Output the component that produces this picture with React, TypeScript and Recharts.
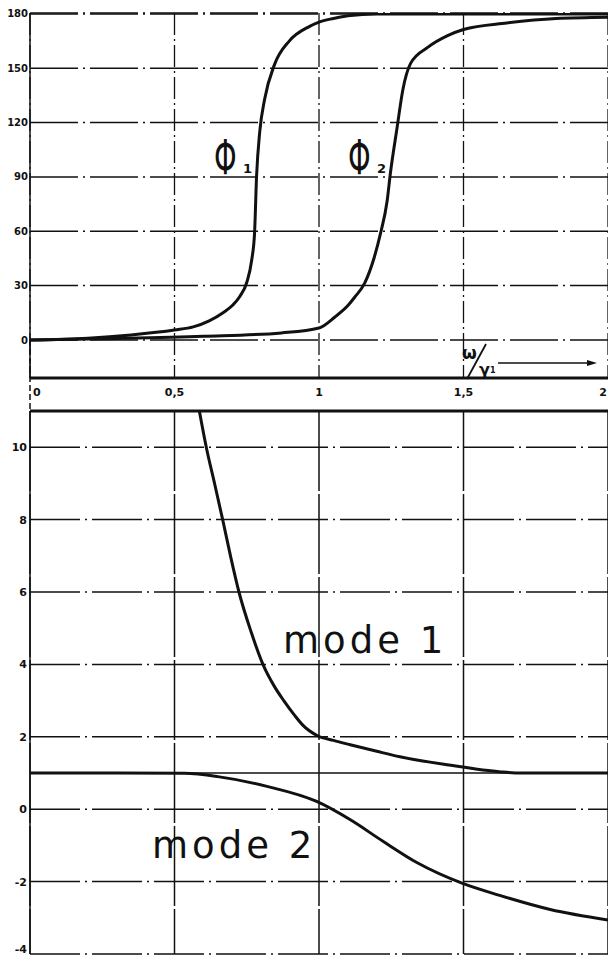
import React from "react";
import { LineChart, Line, XAxis, YAxis, CartesianGrid, ReferenceLine } from "recharts";

// frequency axis (omega / gamma1)
const xTicks = [0, 0.5, 1, 1.5, 2];
const xTickLabels = ["0", "0,5", "1", "1,5", "2"];

// top panel: phase in degrees
const phaseTicks = [0, 30, 60, 90, 120, 150, 180];

const phi1X = [0, 0.2, 0.35, 0.5, 0.565, 0.62, 0.668, 0.7, 0.726, 0.75, 0.767, 0.777, 0.784, 0.795, 0.812, 0.846, 0.897, 0.966, 1.0, 1.05, 1.1, 1.2, 1.5, 2];
const phi1Y = [0, 1, 2.8, 5.5, 7.2, 10.5, 15, 19, 24, 31.7, 44, 59, 90.5, 115, 133, 152, 165, 173, 175.5, 177.5, 179, 180, 180, 180];

const phi2X = [0, 0.3, 0.6, 0.87, 1.0, 1.055, 1.1, 1.124, 1.158, 1.19, 1.213, 1.236, 1.247, 1.27, 1.29, 1.317, 1.376, 1.445, 1.5, 1.65, 1.82, 2];
const phi2Y = [0, 0.8, 2, 3.9, 6.6, 12.7, 19, 23.7, 31.4, 45, 59, 77, 92, 117, 138, 152.7, 161.5, 168, 171.4, 175, 177.5, 178.2];

// bottom panel: amplitude ratio of the two modes
const modeTicks = [-4, -2, 0, 2, 4, 6, 8, 10];

const mode1X = [0.586, 0.61, 0.64, 0.668, 0.695, 0.723, 0.765, 0.806, 0.845, 0.878, 0.915, 0.943, 0.995, 1.05, 1.108, 1.2, 1.28, 1.45, 1.63, 1.7, 2];
const mode1Y = [11, 10, 8.95, 7.95, 6.95, 6, 4.9, 4, 3.4, 3.0, 2.6, 2.33, 2.03, 1.9, 1.78, 1.6, 1.45, 1.22, 1.03, 1.0, 1.0];

const mode2X = [0, 0.3, 0.534, 0.65, 0.82, 0.99, 1.11, 1.22, 1.34, 1.497, 1.625, 1.8, 2];
const mode2Y = [1, 1, 0.99, 0.9, 0.63, 0.22, -0.3, -0.88, -1.48, -2.05, -2.38, -2.77, -3.06];

const toPoints = (xs: number[], ys: number[]) => xs.map((x, i) => ({ x, y: ys[i] }));

const INK = "#111";
const FONT = "DejaVu Sans";
const tickStyle = { fill: INK, fontSize: 10, fontWeight: 700, fontFamily: FONT };

const XTick = (props: any) => {
  const { x, y, index } = props;
  const last = xTicks.length - 1;
  const anchor = index === 0 ? "start" : index === last ? "end" : "middle";
  const dx = index === 0 ? 3 : index === last ? -1 : 0;
  return (
    <text x={x + dx} y={y} dy="0.71em" textAnchor={anchor} fill={INK} fontSize={11} fontWeight={700} fontFamily={FONT}>
      {xTickLabels[index]}
    </text>
  );
};

// bottom ticks: the lowest one sits on the page edge, nudge it up to stay visible
const ModeTick = (props: any) => {
  const { x, y, payload } = props;
  const lift = payload.value === modeTicks[0] ? -5 : 0;
  return (
    <text x={x} y={y + lift} dy="0.355em" textAnchor="end" fill={INK} fontSize={11} fontWeight={700} fontFamily={FONT}>
      {payload.value}
    </text>
  );
};

export default function App() {
  return (
    <div style={{ position: "relative", width: 608, height: 955, overflow: "hidden", background: "#fff" }}>
      <style>{"body{margin:0}"}</style>

      <div style={{ position: "absolute", left: 0, top: 0 }}>
        <LineChart width={608} height={412} margin={{ top: 13, right: 0, bottom: 0, left: 0 }}>
          <CartesianGrid vertical={false} stroke={INK} strokeWidth={1.5} strokeDasharray="48 5 2 5" />
          <CartesianGrid horizontal={false} stroke={INK} strokeWidth={1.3} strokeDasharray="22 4 2 4" />
          <XAxis
            type="number"
            dataKey="x"
            domain={[0, 2]}
            ticks={xTicks}
            allowDataOverflow
            interval={0}
            height={34}
            axisLine={{ stroke: INK, strokeWidth: 3 }}
            tickLine={false}
            tickMargin={4}
            tick={<XTick />}
          />
          <YAxis
            type="number"
            domain={[-21, 180.5]}
            ticks={phaseTicks}
            allowDataOverflow
            interval={0}
            width={30}
            axisLine={{ stroke: INK, strokeWidth: 1.5 }}
            tickLine={false}
            tickSize={0}
            tickMargin={2}
            tick={tickStyle}
          />
          <Line data={toPoints(phi1X, phi1Y)} dataKey="y" type="monotone" stroke={INK} strokeWidth={3} dot={false} isAnimationActive={false} />
          <Line data={toPoints(phi2X, phi2Y)} dataKey="y" type="monotone" stroke={INK} strokeWidth={3} dot={false} isAnimationActive={false} />
        </LineChart>
      </div>

      <div style={{ position: "absolute", left: 0, top: 400 }}>
        <LineChart width={608} height={560} margin={{ top: 11, right: 0, bottom: 6, left: 0 }}>
          <CartesianGrid vertical={false} stroke={INK} strokeWidth={1.5} strokeDasharray="50 5 2 5" />
          <CartesianGrid horizontal={false} stroke={INK} strokeWidth={1.5} strokeDasharray="80 3" />
          <XAxis type="number" dataKey="x" domain={[0, 2]} ticks={xTicks} allowDataOverflow hide />
          <YAxis
            type="number"
            domain={[-4, 11]}
            ticks={modeTicks}
            allowDataOverflow
            interval={0}
            width={30}
            axisLine={{ stroke: INK, strokeWidth: 1.5 }}
            tickLine={false}
            tickSize={0}
            tickMargin={3}
            tick={<ModeTick />}
          />
          <ReferenceLine y={11} stroke={INK} strokeWidth={3} />
          <ReferenceLine y={1} stroke={INK} strokeWidth={1.5} />
          <Line data={toPoints(mode1X, mode1Y)} dataKey="y" type="monotone" stroke={INK} strokeWidth={3} dot={false} isAnimationActive={false} />
          <Line data={toPoints(mode2X, mode2Y)} dataKey="y" type="monotone" stroke={INK} strokeWidth={3} dot={false} isAnimationActive={false} />
        </LineChart>
      </div>

      <svg width={608} height={955} style={{ position: "absolute", left: 0, top: 0, pointerEvents: "none" }}>
        <line x1={30} y1={340} x2={30} y2={412} stroke={INK} strokeWidth={1.5} strokeDasharray="6 3" />

        <text transform="translate(214,174) scale(0.6,1)" fontSize={48} fontFamily={FONT} fill={INK}>Φ</text>
        <text x={243} y={173} fontSize={13} fontWeight={700} fontFamily={FONT} fill={INK}>1</text>
        <text transform="translate(348,174) scale(0.6,1)" fontSize={48} fontFamily={FONT} fill={INK}>Φ</text>
        <text x={377} y={173} fontSize={13} fontWeight={700} fontFamily={FONT} fill={INK}>2</text>

        <text x={283} y={653} fontSize={37} fontFamily={FONT} letterSpacing={4} fill={INK}>mode 1</text>
        <text x={152} y={858} fontSize={37} fontFamily={FONT} letterSpacing={4} fill={INK}>mode 2</text>

        <text x={462} y={359} fontSize={17} fontWeight={700} fontFamily={FONT} fill={INK}>ω</text>
        <line x1={467} y1={379} x2={486} y2={344} stroke={INK} strokeWidth={1.8} />
        <text x={479} y={375} fontSize={16} fontWeight={700} fontFamily={FONT} fill={INK}>γ</text>
        <text x={490} y={373} fontSize={8} fontWeight={700} fontFamily={FONT} fill={INK}>1</text>
        <line x1={498} y1={363} x2={590} y2={363} stroke={INK} strokeWidth={1.5} />
        <polygon points="587,360 597,363 587,366" fill={INK} />
      </svg>
    </div>
  );
}
